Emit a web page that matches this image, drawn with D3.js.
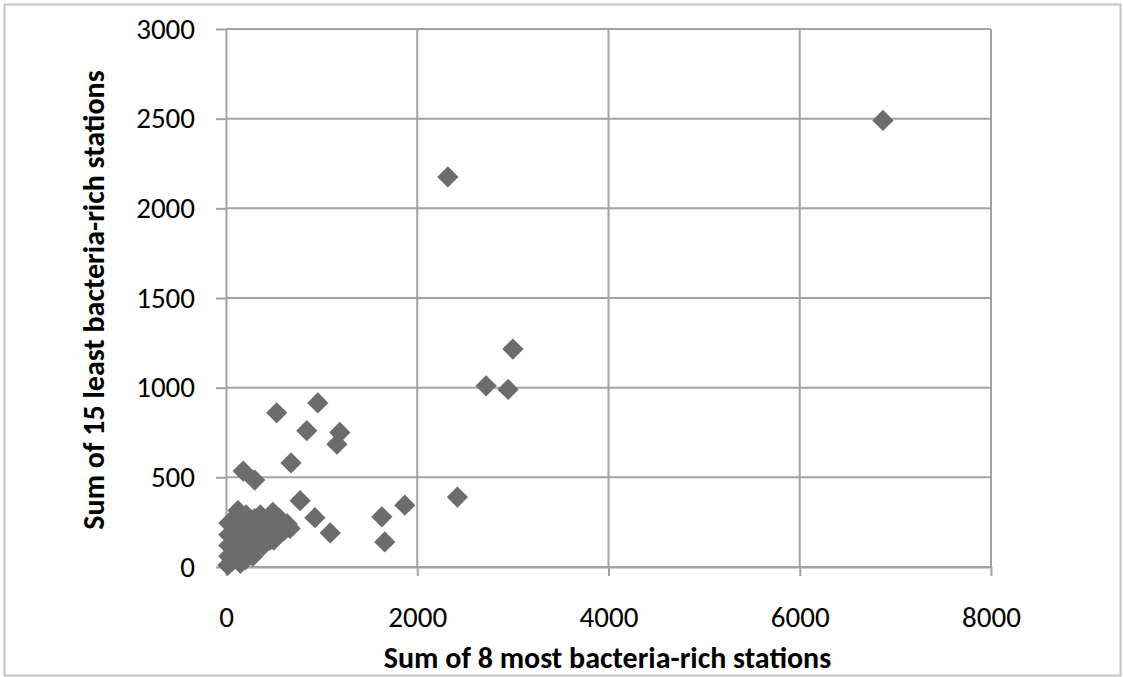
<!DOCTYPE html>
<html>
<head>
<meta charset="utf-8">
<script src="https://cdn.jsdelivr.net/npm/d3@7"></script>
<style>
  body { margin: 0; background: #fff; }
  svg { display: block; }
  text { font-family: Carlito, Lato, "Open Sans", sans-serif; fill: #000; }
</style>
</head>
<body>
<svg width="1123" height="677"></svg>
<script>
// sums per taxon: 8 richest stations (x) vs 15 poorest stations (y)
var mostRich = [6870, 2320, 3000, 2720, 2950, 2420, 1870, 1630, 1660, 960, 530, 845, 1190, 1160, 680,
  180, 300, 775, 930, 1090,
  20, 30, 30, 30, 30, 60, 70, 80, 80, 100, 125, 110, 120, 140, 160, 180, 190, 200, 210, 230,
  250, 260, 280, 300, 320, 340, 360, 380, 400, 430, 450, 490, 500, 520, 560, 600, 640, 670,
  390, 280, 150, 460, 540];
var leastRich = [2490, 2175, 1215, 1010, 990, 390, 345, 280, 140, 915, 860, 760, 750, 685, 580,
  535, 485, 370, 275, 190,
  10, 60, 120, 180, 245, 30, 100, 160, 220, 280, 315, 60, 130, 200, 250, 110, 180, 40, 290, 230,
  150, 90, 200, 270, 130, 210, 290, 170, 230, 260, 200, 305, 150, 240, 270, 200, 240, 215,
  120, 60, 20, 150, 180];

var xTicks = [0, 2000, 4000, 6000, 8000];
var yTicks = [0, 500, 1000, 1500, 2000, 2500, 3000];

var xTitle = "Sum of 8 most bacteria-rich stations";
var yTitle = "Sum of 15 least bacteria-rich stations";

var svg = d3.select("svg");
var margin = {left: 226, top: 29, right: 132, bottom: 110};
var width = 1123 - margin.left - margin.right;
var height = 677 - margin.top - margin.bottom;
var gridColor = "#a3a3a3";

// outer frame
svg.append("rect")
  .attr("x", 4.5).attr("y", 4.5)
  .attr("width", 1116).attr("height", 671)
  .attr("fill", "none")
  .attr("stroke", "#c4c4c4")
  .attr("stroke-width", 2);

var g = svg.append("g")
  .attr("transform", "translate(" + margin.left + "," + margin.top + ")");

var x = d3.scaleLinear().domain([0, 8000]).range([0, width]);
var y = d3.scaleLinear().domain([0, 3000]).range([height, 0]);

// grid
g.selectAll(".hgrid")
  .data(yTicks)
  .enter().append("line")
  .attr("x1", 0).attr("x2", width)
  .attr("y1", function(d) { return y(d); })
  .attr("y2", function(d) { return y(d); })
  .attr("stroke", gridColor).attr("stroke-width", 2);

g.selectAll(".vgrid")
  .data(xTicks.slice(1))
  .enter().append("line")
  .attr("x1", function(d) { return x(d); })
  .attr("x2", function(d) { return x(d); })
  .attr("y1", 0).attr("y2", height)
  .attr("stroke", gridColor).attr("stroke-width", 2);

// axes
var fmt = d3.format("d");
var xAxis = g.append("g")
  .attr("transform", "translate(0," + height + ")")
  .call(d3.axisBottom(x).tickValues(xTicks).tickFormat(fmt).tickSize(9).tickSizeOuter(0).tickPadding(30));
var yAxis = g.append("g")
  .call(d3.axisLeft(y).tickValues(yTicks).tickFormat(fmt).tickSize(10).tickSizeOuter(0).tickPadding(21));

[xAxis, yAxis].forEach(function(a) {
  a.select(".domain").attr("stroke", gridColor).attr("stroke-width", 2);
  a.selectAll(".tick line").attr("stroke", gridColor).attr("stroke-width", 2);
  a.selectAll(".tick text")
    .attr("font-family", "Carlito, Lato, sans-serif")
    .attr("font-size", 29)
    .attr("fill", "#000");
});

// points
var pts = mostRich.map(function(v, i) { return {x: v, y: leastRich[i]}; });
g.selectAll(".pt")
  .data(pts)
  .enter().append("path")
  .attr("class", "pt")
  .attr("d", d3.symbol().type(d3.symbolDiamond2).size(288))
  .attr("transform", function(d) { return "translate(" + x(d.x) + "," + y(d.y) + ")"; })
  .attr("fill", "#6c6c6c");

// titles
svg.append("text")
  .attr("x", margin.left + width / 2 - 1)
  .attr("y", 668)
  .attr("text-anchor", "middle")
  .attr("font-weight", "bold")
  .attr("font-size", 30)
  .text(xTitle);

svg.append("text")
  .attr("transform", "translate(104," + (margin.top + height / 2 + 2) + ") rotate(-90)")
  .attr("text-anchor", "middle")
  .attr("font-weight", "bold")
  .attr("font-size", 30)
  .text(yTitle);
</script>
</body>
</html>
